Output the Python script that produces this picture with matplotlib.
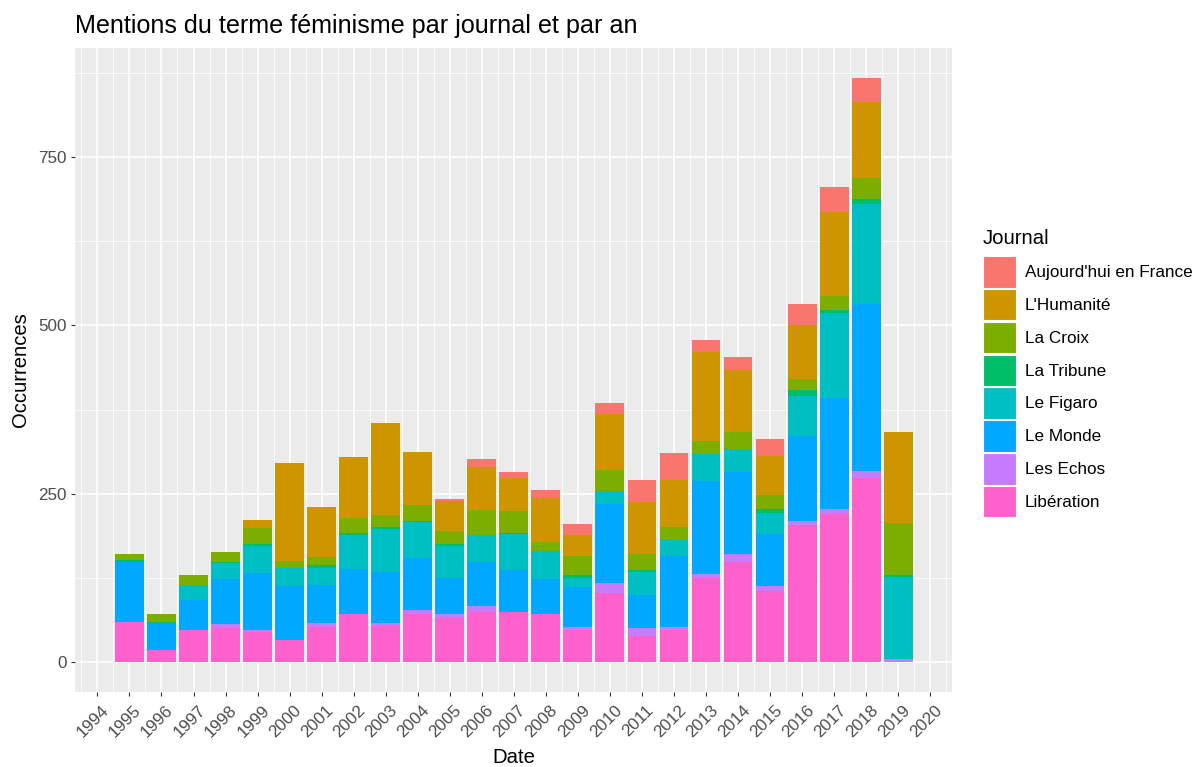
import matplotlib
matplotlib.use("Agg")
import matplotlib.pyplot as plt
import matplotlib.transforms as mtransforms
from matplotlib.patches import Patch
import numpy as np

plt.rcParams['font.family'] = ['Liberation Sans', 'DejaVu Sans']

years = list(range(1995, 2020))

# stacked bottom -> top
liberation = [60, 18, 48, 50, 44, 33, 52, 71, 54, 72, 66, 75, 74, 72, 48, 102, 39, 48, 125, 148, 106, 203, 220, 274, 0]
les_echos  = [0, 0, 0, 7, 4, 0, 6, 0, 4, 6, 6, 8, 1, 0, 4, 15, 12, 4, 6, 12, 7, 6, 8, 10, 4]
le_monde   = [88, 40, 44, 66, 84, 80, 56, 67, 75, 76, 53, 65, 62, 51, 59, 117, 49, 105, 138, 122, 77, 127, 164, 248, 0]
le_figaro  = [0, 0, 23, 24, 40, 27, 26, 50, 65, 54, 48, 40, 53, 42, 14, 20, 34, 24, 40, 35, 31, 59, 127, 149, 122]
la_tribune = [3, 2, 0, 2, 4, 0, 4, 3, 3, 2, 2, 0, 2, 0, 4, 0, 2, 1, 0, 0, 6, 9, 4, 7, 3]
la_croix   = [9, 12, 14, 14, 23, 10, 12, 23, 18, 23, 19, 38, 32, 14, 28, 31, 25, 19, 19, 25, 21, 17, 21, 31, 78]
humanite   = [0, 0, 0, 0, 12, 146, 75, 90, 136, 79, 45, 63, 50, 65, 31, 84, 77, 69, 132, 92, 58, 80, 124, 113, 134]
aujourdhui = [0, 0, 0, 0, 0, 0, 0, 0, 0, 0, 3, 12, 8, 12, 17, 16, 32, 40, 19, 19, 25, 31, 38, 35, 0]

series = [
    ("Libération", liberation, "#FF61CC"),
    ("Les Echos", les_echos, "#C77CFF"),
    ("Le Monde", le_monde, "#00A9FF"),
    ("Le Figaro", le_figaro, "#00BFC4"),
    ("La Tribune", la_tribune, "#00BE67"),
    ("La Croix", la_croix, "#7CAE00"),
    ("L'Humanité", humanite, "#CD9600"),
    ("Aujourd'hui en France", aujourdhui, "#F8766D"),
]

W, H = 1194, 767
fig = plt.figure(figsize=(W / 100, H / 100), dpi=100)
left, right, top, bottom = 75, 952, 48, 692
ax = fig.add_axes([left / W, 1 - bottom / H, (right - left) / W, (bottom - top) / H])
ax.set_facecolor("#EBEBEB")
for s in ax.spines.values():
    s.set_visible(False)

cum = np.zeros(len(years))
for name, vals, col in series:
    v = np.array(vals, dtype=float)
    ax.bar(years, v, bottom=cum, width=0.9, color=col, label=name, zorder=3, linewidth=0)
    cum += v

ax.set_xlim(1993.3, 2020.68)
ax.set_ylim(-44.5, 912)
xt = list(range(1994, 2021))
ax.set_xticks(xt)
ax.set_xticks([x + 0.5 for x in range(1993, 2021)], minor=True)
ax.set_yticks([0, 250, 500, 750])
ax.set_yticks([125, 375, 625, 875], minor=True)
ax.grid(which="major", color="white", linewidth=1.1, zorder=0)
ax.grid(which="minor", color="white", linewidth=0.55, zorder=0)
ax.set_axisbelow(True)
ax.tick_params(which="major", length=3.2, width=0.8, color="#333333", labelcolor="#4D4D4D", labelsize=12.3, pad=3)
ax.tick_params(axis="x", which="major", pad=4.5)
ax.tick_params(which="minor", length=0)
ax.set_xticklabels([str(x) for x in xt], rotation=45, ha="center", va="top")
offset = mtransforms.ScaledTranslation(-4 / 100, 0, fig.dpi_scale_trans)
for lab in ax.get_xticklabels():
    lab.set_transform(lab.get_transform() + offset)

ax.set_xlabel("Date", fontsize=14.6, color="black", labelpad=5.5)
ax.set_ylabel("Occurrences", fontsize=14.6, color="black", labelpad=6)

fig.text(left / W, 1 - 33 / H, "Mentions du terme féminisme par journal et par an",
         fontsize=18.1, color="black", ha="left", va="baseline")

fig.text(983 / W, 1 - 238 / H, "Journal", fontsize=14.6, color="black", ha="left", va="center")
handles = [Patch(facecolor=c, edgecolor="white", linewidth=0.8) for _, _, c in reversed(series)]
labels = [n for n, _, _ in reversed(series)]
leg = fig.legend(handles, labels, loc="upper left",
                 bbox_to_anchor=(978 / W, 1 - 251 / H), frameon=False,
                 fontsize=12.3, handlelength=1.95, handleheight=2.45,
                 labelspacing=0.085, handletextpad=0.5, borderaxespad=0, borderpad=0.3)

fig.savefig("out.png", dpi=100)
